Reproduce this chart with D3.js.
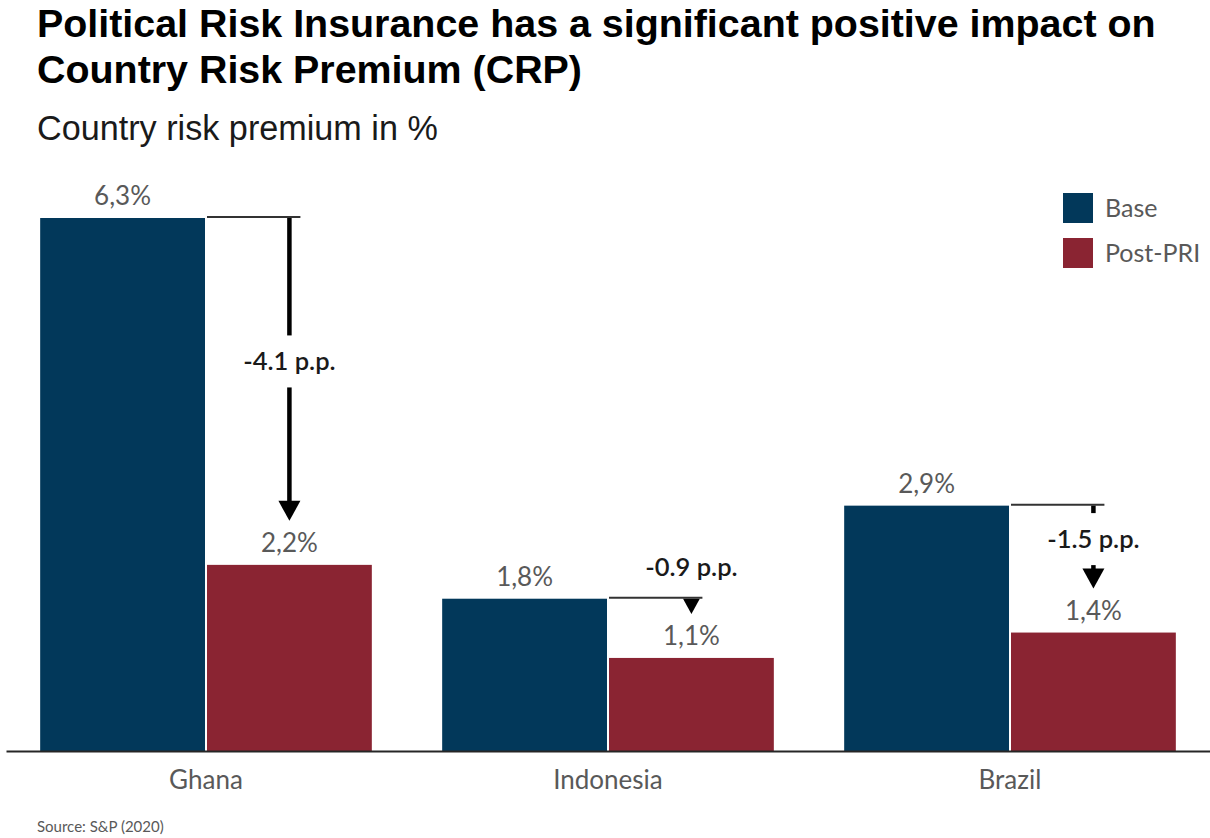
<!DOCTYPE html>
<html>
<head>
<meta charset="utf-8">
<script src="https://cdn.jsdelivr.net/npm/d3@7"></script>
<style>
  html, body { margin: 0; padding: 0; background: #ffffff; }
  svg { display: block; }
</style>
</head>
<body>
<svg id="chart" width="1210" height="838"></svg>
<script>
// Country risk premium before and after political risk insurance
const categories = ["Ghana", "Indonesia", "Brazil"];
const seriesNames = ["Base", "Post-PRI"];
const baseValues = [6.3, 1.8, 2.9];
const postValues = [2.2, 1.1, 1.4];
const changeValues = [-4.1, -0.9, -1.5];
const titleLines = [
  "Political Risk Insurance has a significant positive impact on",
  "Country Risk Premium (CRP)"
];
const subtitle = "Country risk premium in %";
const sourceNote = "Source: S&P (2020)";

const colors = { "Base": "#02385a", "Post-PRI": "#8a2432" };

const W = 1210, H = 838;
const svg = d3.select("#chart");

const rows = categories.map((c, i) => ({
  category: c,
  values: [
    { series: "Base", value: baseValues[i] },
    { series: "Post-PRI", value: postValues[i] }
  ],
  base: baseValues[i],
  post: postValues[i],
  change: changeValues[i]
}));

// Scales
const x = d3.scaleBand()
  .domain(categories)
  .range([6, W])
  .paddingInner(0.175)
  .paddingOuter(0.085);

const xs = d3.scaleBand()
  .domain(seriesNames)
  .range([0, x.bandwidth()])
  .paddingInner(0.012);

const y = d3.scaleLinear()
  .domain([0, 6.3])
  .range([751, 218]);

const valueFmt = d3.formatLocale({ decimal: ",", thousands: ".", grouping: [3], currency: ["", ""] }).format(".1f");
const changeFmt = d3.formatLocale({ decimal: ".", thousands: ",", grouping: [3], currency: ["", ""], minus: "-" }).format(".1f");

const labelFont = "Lato, 'Open Sans', sans-serif";

// Title and subtitle
svg.append("g")
  .selectAll("text")
  .data(titleLines)
  .join("text")
  .attr("x", 37)
  .attr("y", (d, i) => 37 + i * 46)
  .attr("font-family", "'Liberation Sans', Arial, sans-serif")
  .attr("font-weight", "bold")
  .attr("font-size", 39.4)
  .attr("fill", "#000")
  .text(d => d);

svg.append("text")
  .attr("x", 37)
  .attr("y", 140)
  .attr("font-family", "'Liberation Sans', Arial, sans-serif")
  .attr("font-size", 34.2)
  .attr("fill", "#1a1a1a")
  .text(subtitle);

// Bars
const groups = svg.append("g")
  .selectAll("g.group")
  .data(rows)
  .join("g")
  .attr("class", "group")
  .attr("transform", d => `translate(${x(d.category)},0)`);

groups.selectAll("rect")
  .data(d => d.values)
  .join("rect")
  .attr("x", d => xs(d.series))
  .attr("y", d => y(d.value))
  .attr("width", xs.bandwidth())
  .attr("height", d => y(0) - y(d.value))
  .attr("fill", d => colors[d.series]);

groups.selectAll("text.value")
  .data(d => d.values)
  .join("text")
  .attr("class", "value")
  .attr("x", d => xs(d.series) + xs.bandwidth() / 2)
  .attr("y", d => y(d.value) - 13)
  .attr("text-anchor", "middle")
  .attr("font-family", labelFont)
  .attr("font-size", 26)
  .attr("fill", "#595959")
  .text(d => valueFmt(d.value) + "%");

// Change annotations: leader from the base level, arrow down to the post-PRI label
const ann = groups.append("g").attr("class", "annotation");

ann.each(function(d) {
  const g = d3.select(this);
  const cx = xs("Post-PRI") + xs.bandwidth() / 2;
  const y0 = y(d.base);
  const tip = y(d.post) - 44;
  const len = tip - y0;

  g.append("line")
    .attr("x1", xs("Post-PRI"))
    .attr("x2", cx + 11)
    .attr("y1", y0 - 1)
    .attr("y2", y0 - 1)
    .attr("stroke", "#333")
    .attr("stroke-width", 2);

  const headH = Math.min(20, len);
  const headW = headH * 0.55;
  let labelY;

  if (len > 60) {
    labelY = y0 + len / 2 - 8;
    const gap = 26;
    g.append("line")
      .attr("x1", cx).attr("x2", cx)
      .attr("y1", y0).attr("y2", labelY - gap)
      .attr("stroke", "#000").attr("stroke-width", 4.5);
    g.append("line")
      .attr("x1", cx).attr("x2", cx)
      .attr("y1", labelY + gap).attr("y2", tip - headH + 1)
      .attr("stroke", "#000").attr("stroke-width", 4.5);
  } else {
    labelY = y0 - 32;
  }

  g.append("path")
    .attr("d", `M${cx - headW},${tip - headH}L${cx + headW},${tip - headH}L${cx},${tip}Z`)
    .attr("fill", "#000");

  g.append("text")
    .attr("x", cx)
    .attr("y", labelY + 9)
    .attr("text-anchor", "middle")
    .attr("font-family", labelFont)
    .attr("font-weight", 600)
    .attr("font-size", 25.5)
    .attr("fill", "#1a1a1a")
    .text(changeFmt(d.change) + " p.p.");
});

// Category axis
const axis = svg.append("g")
  .attr("transform", `translate(0,${y(0)})`)
  .call(d3.axisBottom(x).tickSize(0).tickPadding(20));

axis.select(".domain")
  .attr("stroke", "#262626")
  .attr("stroke-width", 2);

axis.selectAll(".tick text")
  .attr("font-family", labelFont)
  .attr("font-size", 26)
  .attr("fill", "#595959");

// Legend
const legend = svg.append("g")
  .attr("transform", "translate(1063,193)")
  .selectAll("g")
  .data(seriesNames)
  .join("g")
  .attr("transform", (d, i) => `translate(0,${i * 45})`);

legend.append("rect")
  .attr("width", 30)
  .attr("height", 30)
  .attr("fill", d => colors[d]);

legend.append("text")
  .attr("x", 42)
  .attr("y", 24)
  .attr("font-family", labelFont)
  .attr("font-size", 25)
  .attr("fill", "#595959")
  .text(d => d);

// Source note
svg.append("text")
  .attr("x", 37)
  .attr("y", 832)
  .attr("font-family", labelFont)
  .attr("font-size", 15)
  .attr("fill", "#595959")
  .text(sourceNote);
</script>
</body>
</html>
